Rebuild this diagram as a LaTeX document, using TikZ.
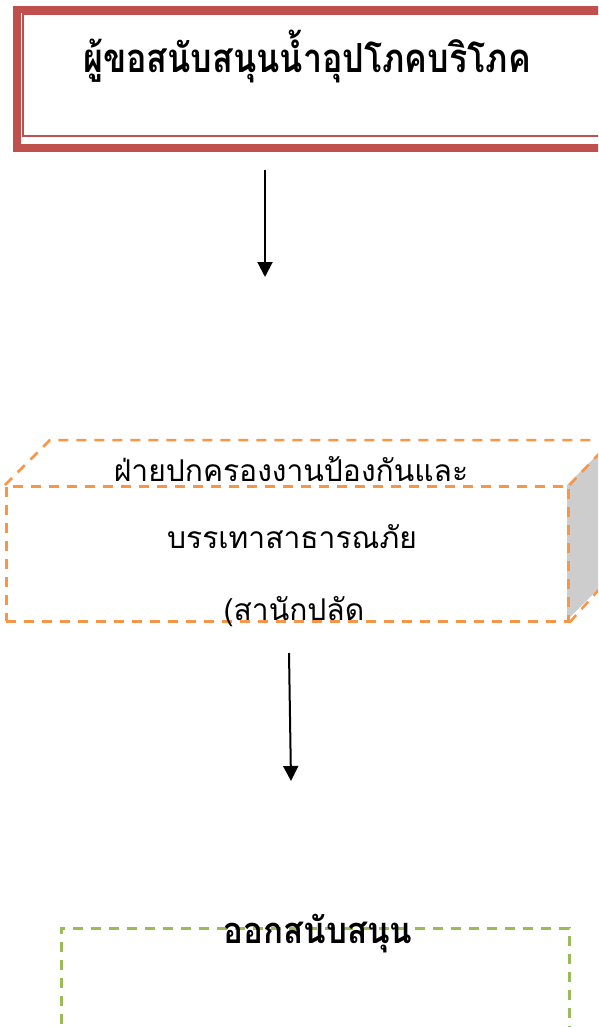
\documentclass[tikz,border=0pt]{standalone}
\usepackage{graphicx}
\usepackage{fontspec}
\newfontfamily\thaifont[Script=Thai]{Loma}
\usetikzlibrary{arrows.meta}
\definecolor{boxred}{HTML}{C0504D}
\definecolor{boxorange}{HTML}{F79646}
\definecolor{boxgreen}{HTML}{9BBB59}
\definecolor{sidegray}{HTML}{CDCDCD}
\tikzset{
  thaitext/.style={inner sep=0pt, anchor=base, font=\thaifont},
  orangedash/.style={draw=boxorange, line width=2.5pt, dash pattern=on 10pt off 8pt},
  greendash/.style={draw=boxgreen, line width=2.5pt, dash pattern=on 10pt off 8pt},
  flowarrow/.style={line width=2pt, -{Triangle[length=15pt,width=15pt]}},
}
\begin{document}
\begin{tikzpicture}[x=1pt,y=-1pt]
\useasboundingbox (0,0) rectangle (598,1027);
\clip (0,0) rectangle (598,1027);
% top box
\node[draw=boxred, line width=7.5pt, minimum width=600pt, minimum height=138.5pt, anchor=north west, inner sep=0pt] (top) at (13,5.8) {};
\draw[boxred, line width=2pt] (22.5,14) rectangle (620,136);
\node[thaitext, font=\thaifont\bfseries\fontsize{34}{40}\selectfont] (toptext) at (307,73) {\scalebox{1}[1.18]{ผู้ขอสนับสนุนน้ำอุปโภคบริโภค}};
% arrow 1
\coordinate (a1s) at (265,170);
\coordinate (a1e) at (265,277);
\draw[flowarrow] (a1s) -- (a1e);
% cube
\fill[white] (5,485) -- (50,440) -- (612,440) -- (567,485) -- cycle;
\fill[sidegray] (567,485) -- (612,440) -- (612,575) -- (567,620) -- cycle;
\node[orangedash, minimum width=562pt, minimum height=135pt, anchor=north west, inner sep=0pt] (cube) at (5,485) {};
\draw[orangedash] (cube.north west) -- (50,440) -- (612,440);
\draw[orangedash] (cube.north east) -- (612,440);
\draw[orangedash] (cube.south east) -- (612,575);
\node[thaitext, font=\thaifont\fontsize{30}{36}\selectfont] (l1) at (291,481) {ฝ่ายปกครองงานป้องกันและ};
\node[thaitext, font=\thaifont\fontsize{30}{36}\selectfont] (l2) at (292,548) {บรรเทาสาธารณภัย};
\node[thaitext, font=\thaifont\fontsize{30}{36}\selectfont] (l3) at (294,620) {(สานักปลัด};
% arrow 2
\coordinate (a2s) at (289,653);
\coordinate (a2e) at (291,781);
\draw[flowarrow] (a2s) -- (a2e);
% bottom box
\node[greendash, minimum width=508pt, minimum height=140pt, anchor=north west, inner sep=0pt] (bottom) at (60,927) {};
\node[thaitext, font=\thaifont\bfseries\fontsize{33}{40}\selectfont] (btext) at (318,943) {\scalebox{1}[1.1]{ออกสนับสนุน}};
\end{tikzpicture}
\end{document}
